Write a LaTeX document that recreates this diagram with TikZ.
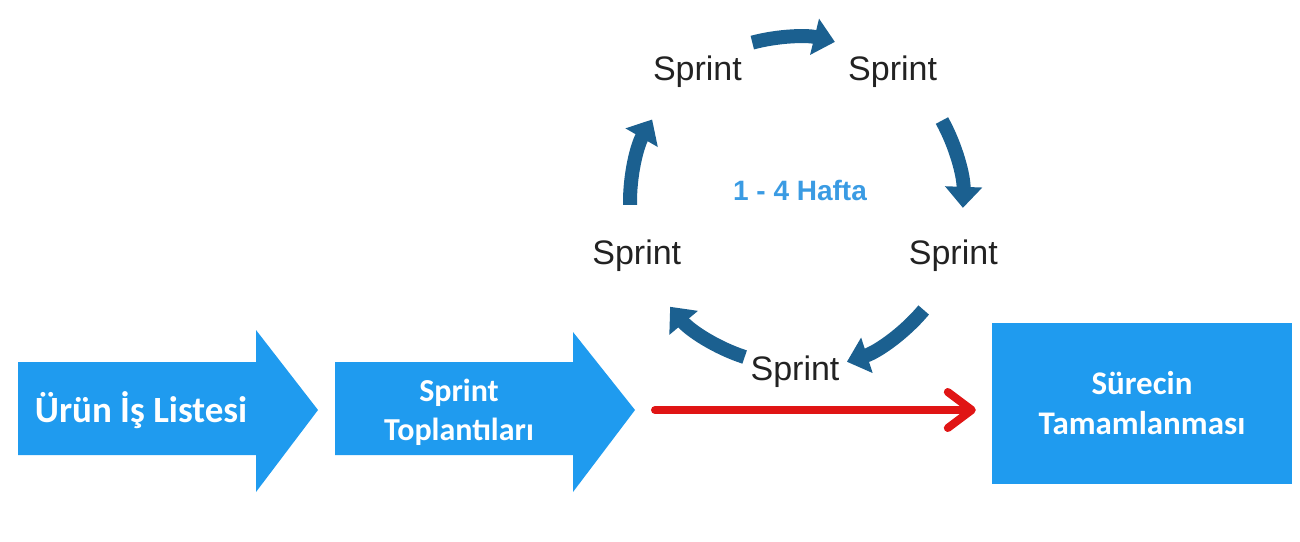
\documentclass[tikz,border=0pt]{standalone}
\usepackage{fontspec}
\setmainfont{Liberation Sans}
\newfontfamily\calibri{Carlito}
\usetikzlibrary{arrows.meta,calc}

\definecolor{flowblue}{HTML}{1F9BEF}
\definecolor{cycleblue}{HTML}{1B6090}
\definecolor{weekblue}{HTML}{3A9BE3}
\definecolor{linered}{HTML}{E01515}
\definecolor{sprinttext}{HTML}{222222}

\begin{document}
\begin{tikzpicture}[x=1pt,y=-1pt,
    sprint/.style={font=\fontsize{34}{36}\selectfont, text=sprinttext, yshift=-4pt},
    flow text/.style={font=\calibri\bfseries\fontsize{32}{39}\selectfont, text=white, align=center},
    cycle arrow/.style={draw=cycleblue, line width=14pt, -{Triangle[width=36pt,length=21pt]}},
    red arrow/.style={draw=linered, line width=8pt, line cap=round, line join=round,
        -{Straight Barb[length=24pt,width=36pt,line cap=round,line join=round]}}]

    \useasboundingbox (0,0) rectangle (1300,541);

    % Define flow arrows
    \fill[flowblue] (18,362) -- (256,362) -- (256,330) -- (318,410)
        -- (256,492) -- (256,455) -- (18,455) -- cycle;
    \fill[flowblue] (335,362) -- (573,362) -- (573,332) -- (635,410)
        -- (573,492) -- (573,455) -- (335,455) -- cycle;
    \coordinate (tip) at (635,410);

    \node[flow text, font=\calibri\bfseries\fontsize{37}{40}\selectfont] (backlog) at (141,410) {Ürün İş Listesi};
    \node[flow text] (planning) at (459,412) {Sprint\\Toplantıları};

    % Define final box
    \node[flow text, font=\calibri\bfseries\fontsize{33}{40}\selectfont, fill=flowblue,
        minimum width=300pt, minimum height=161pt] (done) at (1142,403) {Sürecin\\Tamamlanması};

    % Define sprint cycle
    \coordinate (ctr) at (795,202);
    \node[sprint] (s1) at ($(ctr)+(-126:166)$) {Sprint};
    \node[sprint] (s2) at ($(ctr)+(-54:166)$) {Sprint};
    \node[sprint] (s3) at ($(ctr)+(17.5:166)$) {Sprint};
    \node[sprint] (s4) at ($(ctr)+(90:166)$) {Sprint};
    \node[sprint] (s5) at ($(ctr)+(162.4:166)$) {Sprint};
    \node[font=\bfseries\fontsize{28}{30}\selectfont, text=weekblue] (weeks) at (800,190) {1 - 4 Hafta};

    % Draw edges
    \draw[cycle arrow] ($(ctr)+(-105:165)$) arc[start angle=-105, end angle=-76, radius=165];
    \draw[cycle arrow] ($(ctr)+(-29:168)$) arc[start angle=-29, end angle=2, radius=168];
    \draw[cycle arrow] ($(ctr)+(40:168)$) arc[start angle=40, end angle=72, radius=168];
    \draw[cycle arrow] ($(ctr)+(108:163)$) arc[start angle=108, end angle=140, radius=163];
    \draw[cycle arrow] ($(ctr)+(-181:165)$) arc[start angle=-181, end angle=-150, radius=165];

    \draw[red arrow] ([xshift=20pt]tip) -- ([xshift=-16pt]tip -| done.west);

\end{tikzpicture}
\end{document}
